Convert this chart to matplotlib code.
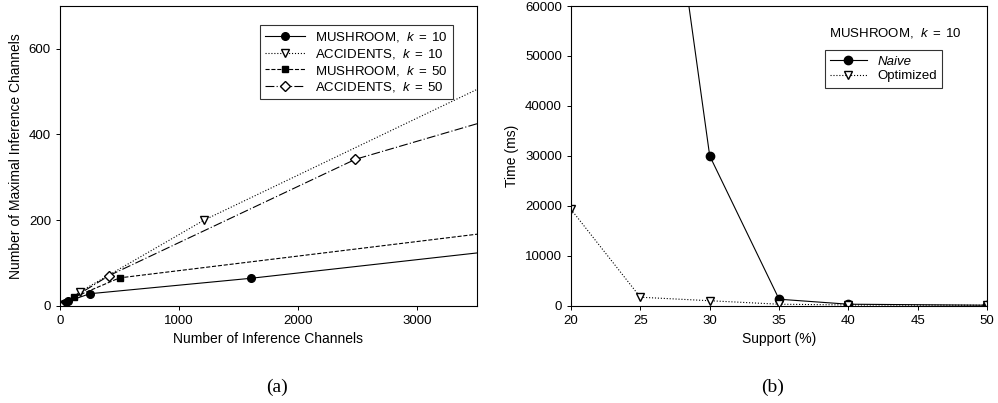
import matplotlib.pyplot as plt

plt.rcParams['font.family'] = ['Liberation Sans', 'DejaVu Sans']
plt.rcParams['mathtext.fontset'] = 'custom'
plt.rcParams['mathtext.it'] = 'Liberation Sans:italic'
plt.rcParams['mathtext.rm'] = 'Liberation Sans'

# Panel (a): number of inference channels vs maximal inference channels
mush10_x = [0, 10, 25, 45, 65, 250, 1600, 5000]
mush10_y = [0, 2, 4, 7, 10, 28, 64, 170]
acc10_x = [0, 170, 1210, 5000]
acc10_y = [0, 33, 200, 705]
mush50_x = [0, 30, 120, 500, 5000]
mush50_y = [0, 5, 20, 65, 218]
acc50_x = [0, 410, 2480, 5000]
acc50_y = [0, 70, 342, 547]

# Panel (b): support vs time
support = [20, 25, 30, 35, 40, 50]
naive_ms = [250000, 130000, 30000, 1300, 300, 100]
optimized_ms = [19300, 1700, 1000, 300, 150, 100]

fig = plt.figure(figsize=(9.98, 4.03), dpi=100)
ax1 = fig.add_axes([0.0601, 0.2414, 0.4178, 0.7437])
ax2 = fig.add_axes([0.5721, 0.2414, 0.4171, 0.7437])

lw = 0.8
ms = 5.5
ax1.plot(mush10_x, mush10_y, color='black', lw=lw, ls='-', marker='o', ms=ms,
         label=r'MUSHROOM,  $\mathit{k\;=\;10}$')
ax1.plot(acc10_x, acc10_y, color='black', lw=lw, ls=':', marker='v', ms=ms,
         mfc='white', label=r'ACCIDENTS,  $\mathit{k\;=\;10}$')
ax1.plot(mush50_x, mush50_y, color='black', lw=lw, ls='--', marker='s', ms=ms - 0.5,
         label=r'MUSHROOM,  $\mathit{k\;=\;50}$')
ax1.plot(acc50_x, acc50_y, color='black', lw=lw, ls=(0, (8, 2, 1, 2)), marker='D', ms=ms - 0.5,
         mfc='white', label=r'ACCIDENTS,  $\mathit{k\;=\;50}$')
ax1.set_xlim(0, 3500)
ax1.set_ylim(0, 700)
ax1.set_xticks([0, 1000, 2000, 3000])
ax1.set_yticks([0, 200, 400, 600])
ax1.set_xlabel('Number of Inference Channels', fontsize=10)
ax1.set_ylabel('Number of Maximal Inference Channels', fontsize=10)
leg1 = ax1.legend(loc='upper right', bbox_to_anchor=(0.9424, 0.9366), borderaxespad=0,
                  fontsize=9.5, frameon=True, fancybox=False, edgecolor='black',
                  handlelength=3, borderpad=0.4, labelspacing=0.2)
leg1.get_frame().set_linewidth(0.8)

ax2.plot(support, naive_ms, color='black', lw=lw, ls='-', marker='o', ms=ms + 0.5,
         label='Naive')
ax2.plot(support, optimized_ms, color='black', lw=lw, ls=':', marker='v', ms=ms + 0.5,
         mfc='white', label='Optimized')
ax2.set_xlim(20, 50)
ax2.set_ylim(0, 60000)
ax2.set_xticks([20, 25, 30, 35, 40, 45, 50])
ax2.set_yticks(range(0, 60001, 10000))
ax2.set_xlabel('Support (%)', fontsize=10)
ax2.set_ylabel('Time (ms)', fontsize=10)
ax2.text(0.779, 0.91, r'MUSHROOM,  $\mathit{k\;=\;10}$', transform=ax2.transAxes,
         ha='center', va='center', fontsize=9.5)
leg2 = ax2.legend(loc='upper right', bbox_to_anchor=(0.892, 0.853), borderaxespad=0,
                  fontsize=9.5, frameon=True, fancybox=False, edgecolor='black',
                  handlelength=2.8, borderpad=0.4, labelspacing=0.2)
leg2.get_frame().set_linewidth(0.8)
leg2.get_texts()[0].set_fontstyle('italic')

for ax in (ax1, ax2):
    ax.tick_params(labelsize=9.5, direction='out', length=3, width=0.7)
    for sp in ax.spines.values():
        sp.set_linewidth(0.8)

fig.text(0.2776, 0.040, '(a)', family='Liberation Serif', fontsize=14, ha='center', va='center')
fig.text(0.7745, 0.040, '(b)', family='Liberation Serif', fontsize=14, ha='center', va='center')

fig.savefig('out.png', dpi=100)
